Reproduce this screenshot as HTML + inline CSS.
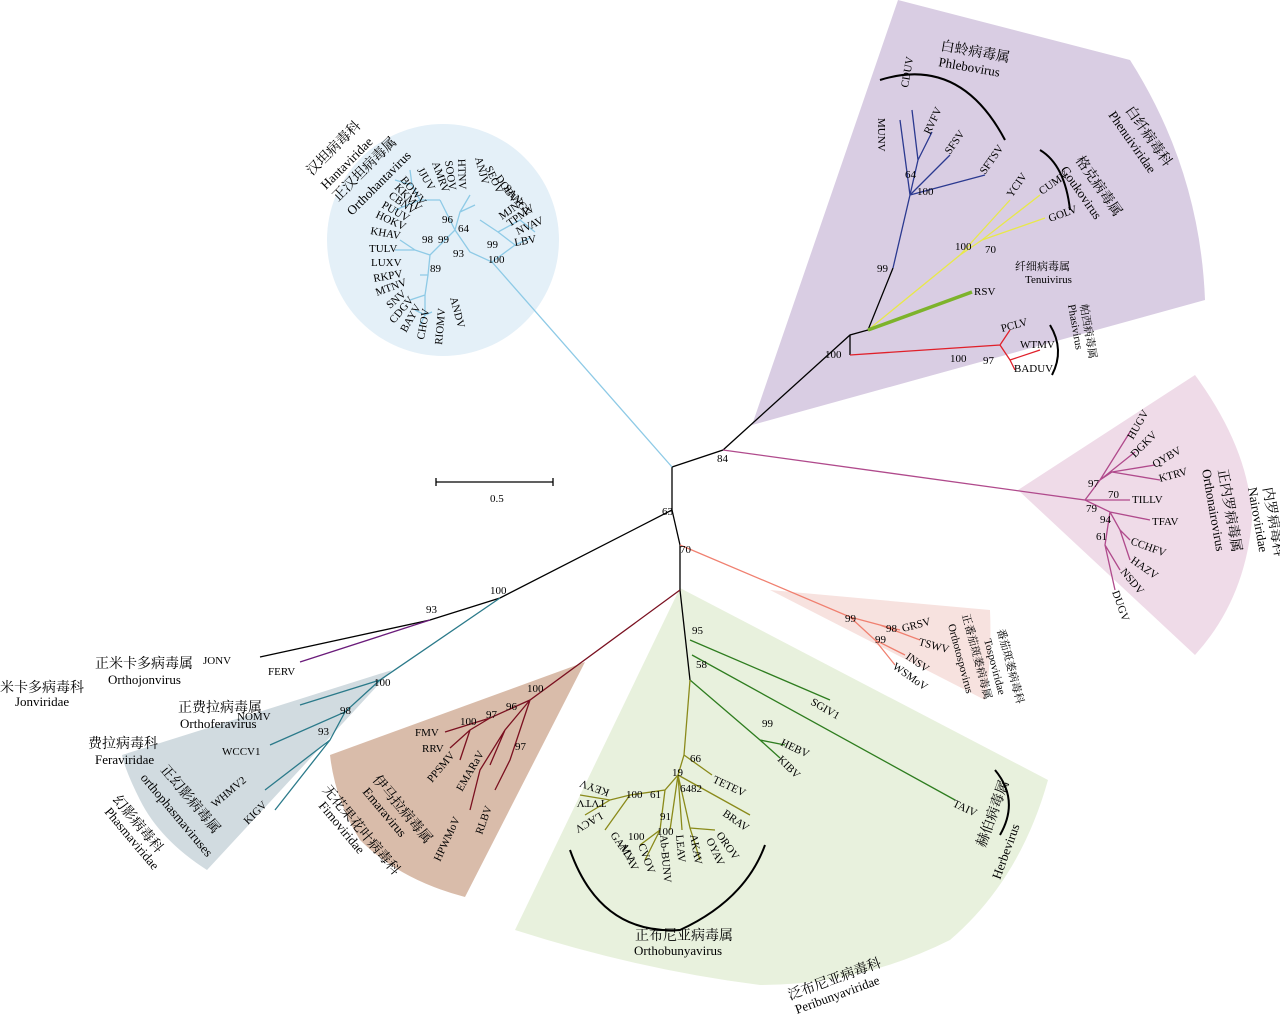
<!DOCTYPE html>
<html><head><meta charset="utf-8"><style>
html,body{margin:0;padding:0;background:#fff;width:1280px;height:1016px;overflow:hidden}
svg text{font-family:"Liberation Serif","Noto Serif CJK SC",serif;fill:#000}
.s{font-size:11px}.m{font-size:13px}.c{font-size:14px}
</style></head><body>
<svg width="1280" height="1016" viewBox="0 0 1280 1016" xmlns="http://www.w3.org/2000/svg" fill="none" stroke-width="1.3">
<circle cx="443" cy="240" r="116" fill="#e4f0f8"/>
<path d="M752,425 L898,0 L1130,60 Q1200,170 1205,300 Z" fill="#d9cde3"/>
<path d="M1018,490 L1195,375 Q1250,450 1252,520 Q1245,600 1195,655 Z" fill="#efdbe8"/>
<path d="M770,590 L990,610 Q992,660 985,700 Z" fill="#f7e2df"/>
<path d="M680,588 L1048,780 Q1020,880 950,940 Q860,985 760,985 Q640,970 515,930 Z" fill="#e8f1dd"/>
<path d="M585,662 L465,897 Q400,880 360,840 Q335,800 330,755 Z" fill="#d9bcaa"/>
<path d="M392,670 L207,870 Q160,840 140,800 Q125,770 122,755 Z" fill="#d1dbe0"/>

<path d="M436,482 L553,482 M436,478 L436,486 M553,478 L553,486" stroke="#000"/>
<text x="490" y="502" class="s">0.5</text>

<path d="M672,467 L723,450 L850,335 L868,330 L893,268" stroke="#000"/>
<path d="M672,467 L672,510 L500,598 L430,620 L260,657" stroke="#000"/>
<path d="M672,510 L680,545 L680,590 L690,680" stroke="#000"/>
<path d="M850,335 L850,355" stroke="#000"/>
<g stroke="#8ecae6">
<path d="M672,467 L492,262 L470,252 L455,230 L440,200"/>
<path d="M492,262 L515,245 L530,238 M515,245 L498,232 L520,220 L535,232 M498,232 L480,220"/>
<path d="M455,230 L460,212 L470,195 M460,212 L475,205 M440,200 L420,200 L412,185 M420,200 L395,210 M412,185 L395,180 M412,185 L410,170"/>
<path d="M455,230 L430,255 L415,250 L395,250 M430,255 L428,275 L420,275 M428,275 L425,295 L410,300 M425,295 L425,315 L415,310 M425,315 L432,312 M425,315 L420,325 M415,250 L400,240"/>
</g>
<g stroke="#2b3990"><path d="M893,268 L910,195 L900,120 M910,195 L918,160 L912,110 M918,160 L932,132 M910,195 L950,155 M910,195 L985,175"/></g>
<g stroke="#e8e84a"><path d="M868,330 L960,255 L1010,200 M960,255 L982,240 L1040,195 M982,240 L1045,218"/></g>
<path d="M868,330 L972,292" stroke="#7db32b" stroke-width="3.5"/>
<g stroke="#e0202a"><path d="M850,355 L1000,345 L1010,330 M1000,345 L1010,360 L1040,350 M1010,360 L1015,370"/></g>
<g stroke="#b04a8c"><path d="M723,450 L1085,500 L1100,480 L1130,432 M1100,480 L1135,452 M1100,480 L1112,472 L1155,465 M1112,472 L1160,480 M1085,500 L1130,500 M1085,500 L1110,512 L1150,520 M1110,512 L1120,530 L1130,540 M1120,530 L1130,560 M1110,512 L1105,545 L1120,570 M1105,545 L1115,590"/></g>
<g stroke="#f08070"><path d="M680,545 L850,617 L880,625 L900,630 M880,625 L920,640 M850,617 L875,640 L905,655 M875,640 L895,665"/></g>
<g stroke="#2e7d1f"><path d="M690,640 L830,700 M690,680 L760,740 L785,745 M760,740 L780,758 M692,655 L955,800"/></g>
<g stroke="#8a8a1a"><path d="M690,680 L684,755 L678,775 L665,790 L630,795 L610,800 L580,795 M610,800 L585,815 M630,795 L605,830 M665,790 L660,830 L640,845 M660,830 L645,860 M678,775 L670,830 M678,775 L682,830 M678,775 L690,828 L700,860 M690,828 L715,830 M678,775 L750,815 M684,755 L712,775"/></g>
<g stroke="#7a1020"><path d="M680,590 L530,700 L490,718 L445,732 M490,718 L470,730 L450,748 M470,730 L460,760 M530,700 L505,730 L490,765 M530,700 L510,760 L495,790 M505,730 L480,770 L470,810"/></g>
<path d="M430,620 L300,662" stroke="#6a1b7a"/>
<g stroke="#2b7a8a"><path d="M500,598 L380,680 L300,705 M380,680 L345,712 L270,745 M345,712 L330,740 L265,790 M330,740 L275,810"/></g>

<g stroke="#000" stroke-width="2">
<path d="M880,80 Q960,55 1005,140"/><path d="M1040,150 Q1065,165 1070,210"/>
<path d="M1050,325 Q1065,350 1052,375"/>
<path d="M570,850 Q600,935 680,930 Q745,900 765,845"/><path d="M995,770 Q1020,800 1000,835"/>
</g>

<g class="s">
<text x="662" y="515">63</text><text x="717" y="462">84</text><text x="680" y="553">70</text>
<text x="825" y="358">100</text><text x="950" y="362">100</text><text x="983" y="364">97</text>
<text x="877" y="272">99</text><text x="955" y="250">100</text><text x="985" y="253">70</text>
<text x="905" y="178">64</text><text x="917" y="195">100</text>
<text x="1086" y="512">79</text><text x="1088" y="487">97</text><text x="1108" y="498">70</text><text x="1100" y="523">94</text><text x="1096" y="540">61</text>
<text x="426" y="613">93</text><text x="490" y="594">100</text><text x="374" y="686">100</text><text x="340" y="714">98</text><text x="318" y="735">93</text>
<text x="527" y="692">100</text><text x="506" y="710">96</text><text x="486" y="718">97</text><text x="460" y="725">100</text><text x="515" y="750">97</text>
<text x="845" y="622">99</text><text x="886" y="632">98</text><text x="875" y="643">99</text>
<text x="692" y="634">95</text><text x="696" y="668">58</text><text x="762" y="727">99</text><text x="690" y="762">66</text><text x="672" y="776">19</text>
<text x="626" y="798">100</text><text x="650" y="798">61</text><text x="680" y="792">6482</text><text x="660" y="820">91</text><text x="657" y="835">100</text><text x="628" y="840">100</text>
<text x="442" y="223">96</text><text x="458" y="232">64</text><text x="438" y="243">99</text><text x="422" y="243">98</text><text x="453" y="257">93</text><text x="487" y="248">99</text><text x="488" y="263">100</text><text x="430" y="272">89</text>
</g>

<g class="s">
<text transform="translate(878,118) rotate(90)">MUNV</text>
<text transform="translate(908,88) rotate(-80)">CDUV</text>
<text transform="translate(930,135) rotate(-65)">RVFV</text>
<text transform="translate(950,155) rotate(-55)">SFSV</text>
<text transform="translate(985,175) rotate(-55)">SFTSV</text>
<text transform="translate(1012,198) rotate(-55)">YCIV</text>
<text transform="translate(1042,195) rotate(-35)">CUMV</text>
<text transform="translate(1050,222) rotate(-20)">GOLV</text>
<text x="974" y="295">RSV</text>
<text transform="translate(1002,332) rotate(-15)">PCLV</text>
<text x="1020" y="348">WTMV</text><text x="1014" y="372">BADUV</text>
<text transform="translate(1133,440) rotate(-60)">HUGV</text>
<text transform="translate(1135,458) rotate(-45)">DGKV</text>
<text transform="translate(1155,468) rotate(-30)">QYBV</text>
<text transform="translate(1160,482) rotate(-15)">KTRV</text>
<text x="1132" y="503">TILLV</text><text x="1152" y="525">TFAV</text>
<text transform="translate(1130,544) rotate(20)">CCHFV</text>
<text transform="translate(1130,562) rotate(35)">HAZV</text>
<text transform="translate(1120,572) rotate(50)">NSDV</text>
<text transform="translate(1112,592) rotate(70)">DUGV</text>
<text transform="translate(903,632) rotate(-15)">GRSV</text>
<text transform="translate(918,645) rotate(15)">TSWV</text>
<text transform="translate(905,658) rotate(35)">INSV</text>
<text transform="translate(892,668) rotate(35)">WSMoV</text>
<text transform="translate(810,704) rotate(30)">SGIV1</text>
<text transform="translate(780,745) rotate(25)">HEBV</text>
<text transform="translate(777,760) rotate(45)">KIBV</text>
<text transform="translate(952,806) rotate(25)">TAIV</text>
<text transform="translate(712,782) rotate(25)">TETEV</text>
<text transform="translate(722,815) rotate(35)">BRAV</text>
<text transform="translate(716,835) rotate(55)">OROV</text>
<text transform="translate(706,840) rotate(65)">OYAV</text>
<text transform="translate(690,835) rotate(80)">AKAV</text>
<text transform="translate(676,835) rotate(85)">LEAV</text>
<text transform="translate(660,835) rotate(85)">Ab-BUNV</text>
<text transform="translate(638,845) rotate(70)">CVOV</text>
<text transform="translate(620,845) rotate(65)">ALAV</text>
<text transform="translate(610,835) rotate(55)">GAMV</text>
<text transform="translate(600,812) rotate(150)">LACV</text>
<text transform="translate(606,800) rotate(180)">TVTV</text>
<text transform="translate(610,790) rotate(200)">KEYV</text>
<text x="415" y="736">FMV</text><text x="422" y="752">RRV</text>
<text transform="translate(432,783) rotate(-50)">PPSMV</text>
<text transform="translate(462,792) rotate(-60)">EMARaV</text>
<text transform="translate(440,862) rotate(-65)">HPWMoV</text>
<text transform="translate(482,835) rotate(-70)">RLBV</text>
<text x="203" y="664">JONV</text><text x="268" y="675">FERV</text>
<text x="237" y="720">NOMV</text><text x="222" y="755">WCCV1</text>
<text transform="translate(215,808) rotate(-40)">WHMV2</text>
<text transform="translate(248,825) rotate(-45)">KIGV</text>
<!-- hanta -->
<text transform="translate(515,246) rotate(-10)">LBV</text>
<text transform="translate(518,235) rotate(-25)">NVAV</text>
<text transform="translate(510,227) rotate(-35)">TPMV</text>
<text transform="translate(502,220) rotate(-35)">MJNV</text>
<text transform="translate(503,188) rotate(50)">SANGV</text>
<text transform="translate(495,178) rotate(55)">DOBV</text>
<text transform="translate(485,168) rotate(65)">SEOV</text>
<text transform="translate(475,158) rotate(75)">ANJV</text>
<text transform="translate(458,159) rotate(88)">HTNV</text>
<text transform="translate(445,161) rotate(82)">SOOV</text>
<text transform="translate(432,163) rotate(70)">AMRV</text>
<text transform="translate(417,170) rotate(60)">JJUV</text>
<text transform="translate(400,180) rotate(50)">BOWV</text>
<text transform="translate(394,188) rotate(45)">KKMV</text>
<text transform="translate(388,197) rotate(35)">CBNV</text>
<text transform="translate(381,207) rotate(30)">PUUV</text>
<text transform="translate(375,217) rotate(25)">HOKV</text>
<text transform="translate(370,234) rotate(10)">KHAV</text>
<text x="369" y="252">TULV</text>
<text x="371" y="266">LUXV</text>
<text transform="translate(374,282) rotate(-10)">RKPV</text>
<text transform="translate(377,296) rotate(-20)">MTNV</text>
<text transform="translate(390,309) rotate(-40)">SNV</text>
<text transform="translate(394,324) rotate(-50)">CDGV</text>
<text transform="translate(406,333) rotate(-60)">BAYV</text>
<text transform="translate(424,340) rotate(-80)">CHOV</text>
<text transform="translate(442,345) rotate(-85)">RIOMV</text>
<text transform="translate(450,298) rotate(75)">ANDV</text>
</g>

<g class="m">
<text transform="translate(312,176) rotate(-45)" class="c">汉坦病毒科</text>
<text transform="translate(326,190) rotate(-45)">Hantaviridae</text>
<text transform="translate(338,202) rotate(-45)" class="c">正汉坦病毒属</text>
<text transform="translate(352,216) rotate(-45)">Orthohantavirus</text>
<text transform="translate(940,50) rotate(10)" class="c">白蛉病毒属</text>
<text transform="translate(938,66) rotate(10)">Phlebovirus</text>
<text transform="translate(1075,160) rotate(55)" class="c">格克病毒属</text>
<text transform="translate(1060,170) rotate(55)">Goukovirus</text>
<text transform="translate(1125,110) rotate(55)" class="c">白纤病毒科</text>
<text transform="translate(1108,115) rotate(55)">Phenuiviridae</text>
<text x="1015" y="270" class="s">纤细病毒属</text><text x="1025" y="283" class="s">Tenuivirus</text>
<text transform="translate(1080,305) rotate(80)" class="s">帕西病毒属</text>
<text transform="translate(1068,305) rotate(80)" class="s">Phasivirus</text>
<text transform="translate(1218,470) rotate(80)" class="c">正内罗病毒属</text>
<text transform="translate(1202,470) rotate(80)">Orthonairovirus</text>
<text transform="translate(1263,488) rotate(80)" class="c">内罗病毒科</text>
<text transform="translate(1248,488) rotate(80)">Nairoviridae</text>
<text transform="translate(962,615) rotate(75)" class="s">正番茄斑萎病毒属</text>
<text transform="translate(948,625) rotate(75)" class="s">Orthotospovirus</text>
<text transform="translate(997,630) rotate(75)" class="s">番茄斑萎病毒科</text>
<text transform="translate(984,640) rotate(75)" class="s">Tospoviridae</text>
<text transform="translate(985,848) rotate(-70)" class="c">赫伯病毒属</text>
<text transform="translate(1000,880) rotate(-70)">Herbevirus</text>
<text x="635" y="940" class="c">正布尼亚病毒属</text><text x="634" y="955">Orthobunyavirus</text>
<text transform="translate(790,1000) rotate(-20)" class="c">泛布尼亚病毒科</text>
<text transform="translate(797,1014) rotate(-20)">Peribunyaviridae</text>
<text transform="translate(372,780) rotate(50)" class="c">伊马拉病毒属</text>
<text transform="translate(362,792) rotate(50)">Emaravirus</text>
<text transform="translate(322,790) rotate(50)" class="c">无花果花叶病毒科</text>
<text transform="translate(318,806) rotate(50)">Fimoviridae</text>
<text transform="translate(160,770) rotate(50)" class="c">正幻影病毒属</text>
<text transform="translate(140,778) rotate(50)">orthophasmaviruses</text>
<text transform="translate(112,800) rotate(50)" class="c">幻影病毒科</text>
<text transform="translate(104,812) rotate(50)">Phasmaviridae</text>
<text x="88" y="748" class="c">费拉病毒科</text><text x="95" y="764">Feraviridae</text>
<text x="178" y="712" class="c">正费拉病毒属</text><text x="180" y="728">Orthoferavirus</text>
<text x="95" y="668" class="c">正米卡多病毒属</text><text x="108" y="684">Orthojonvirus</text>
<text x="0" y="692" class="c">米卡多病毒科</text><text x="15" y="706">Jonviridae</text>
</g>
</svg>
</body></html>
